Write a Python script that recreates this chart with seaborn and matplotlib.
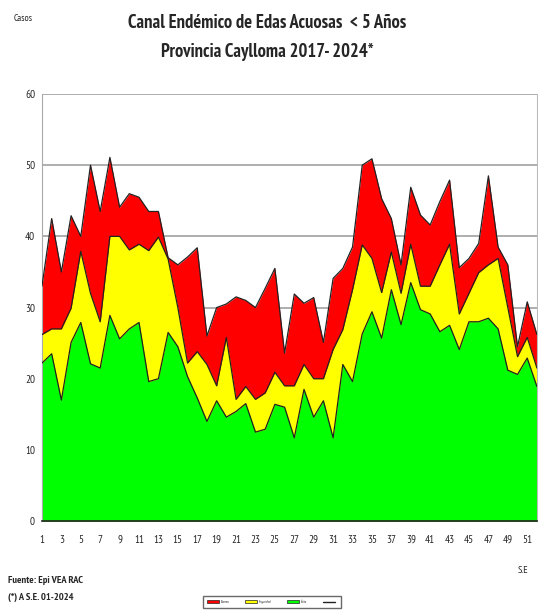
import matplotlib
matplotlib.use("Agg")
import matplotlib.pyplot as plt
import seaborn as sns
import numpy as np
import pandas as pd
from matplotlib.patches import Patch
from matplotlib.lines import Line2D

weeks = list(range(1, 53))
alarma = [33, 42.5, 35, 42.9, 40, 50, 43.5, 51.1, 44.1, 46, 45.5, 43.5, 43.5,
          37, 36, 37.1, 38.4, 26, 30, 30.5, 31.5, 31, 30, 32.7, 35.5, 23.6,
          31.9, 30.6, 31.4, 25.1, 34.1, 35.5, 38.5, 50, 50.9, 45.3, 42.5, 36, 46.9,
          43, 41.6, 44.9, 47.9, 35.6, 36.9, 39, 48.5, 38.5, 36, 24.5, 30.8, 26.2]
seguridad = [26.2, 27, 27, 29.9, 37.9, 32, 28, 40, 40, 38.1, 38.9, 38, 39.9,
             36.8, 30, 22.2, 23.8, 22, 19, 25.8, 17.1, 18.9, 17.1, 18, 20.9, 19,
             19, 22, 20, 20, 24.1, 26.9, 32.5, 38.8, 36.9, 32.1, 37.8, 32, 38.9,
             33, 33, 36, 38.9, 29.1, 32, 34.9, 36, 36.9, 30, 23.1, 25.8, 21.5]
exito = [22.2, 23.5, 17, 25.1, 27.9, 22.1, 21.5, 28.9, 25.6, 27, 27.9, 19.6, 20,
         26.5, 24.5, 20.3, 17.3, 14, 16.9, 14.6, 15.4, 16.5, 12.5, 12.9, 16.4, 16,
         11.7, 18.5, 14.6, 16.9, 11.7, 22, 19.6, 26.3, 29.4, 25.7, 32.5, 27.6, 33.5,
         29.7, 29.1, 26.6, 27.5, 24.1, 28, 28, 28.5, 27, 21.2, 20.6, 22.9, 18.9]
series_names = ["Alarma", "Seguridad", "Éxito"]
colors = ["#FF0000", "#FFFF00", "#00FF00"]
yticks = [0, 10, 20, 30, 40, 50, 60]
xtick_labels = [str(w) if w % 2 == 1 else "" for w in weeks]

df = pd.DataFrame({"SE": weeks, "Alarma": alarma, "Seguridad": seguridad, "Éxito": exito})

sns.set_style("white")
narrow = ["PT Sans Narrow", "Archivo Narrow", "DejaVu Sans"]
plt.rcParams["font.family"] = narrow

fig = plt.figure(figsize=(5.38, 6.13), dpi=100)
ax = fig.add_axes([0.078, 0.150, 0.920, 0.6966])

for name, c in zip(series_names, colors):
    ax.fill_between(df["SE"], 0, df[name], color=c, zorder=2, linewidth=0)
    sns.lineplot(x="SE", y=name, data=df, ax=ax, color="#222222", linewidth=0.9,
                 zorder=3, legend=False)

ax.set_xlim(1, 52)
ax.set_ylim(0, 60)
ax.set_yticks(yticks)
ax.set_xticks(weeks)
ax.set_xticklabels(xtick_labels)
ax.tick_params(axis="x", length=3, width=0.6, color="#888888", labelsize=8, pad=7, direction="out")
ax.tick_params(axis="y", length=3, width=0.6, color="#888888", labelsize=8, pad=2, direction="out")
ax.yaxis.grid(True, color="#999999", linewidth=1.1, zorder=1)
ax.set_axisbelow(True)
ax.set_xlabel("")
ax.set_ylabel("")
ax.spines["top"].set_visible(False)
ax.spines["left"].set_color("#aaaaaa")
ax.spines["right"].set_color("#bbbbbb")
ax.spines["bottom"].set_color("#222222")
ax.spines["bottom"].set_linewidth(1.2)
ax.spines["bottom"].set_zorder(5)

t1 = fig.text(0.497, 0.963, "Canal Endémico de Edas Acuosas  < 5 Años", ha="center", va="center",
              fontsize=16, fontweight="bold", family=narrow)
t2 = fig.text(0.497, 0.915, "Provincia Caylloma 2017- 2024*", ha="center", va="center",
              fontsize=16, fontweight="bold", family=narrow)
# fit title size to the reference layout (both lines share one size)
fig.canvas.draw()
r = fig.canvas.get_renderer()
w1 = t1.get_window_extent(r).width
w2 = t2.get_window_extent(r).width
size = 16 * 0.5 * (275.0 / w1 + 214.0 / w2)
t1.set_fontsize(size)
t2.set_fontsize(size)

fig.text(0.026, 0.970, "Casos", ha="left", va="center", fontsize=7, family=narrow)
fig.text(0.963, 0.070, "S.E", ha="left", va="center", fontsize=7.5, family=narrow)
fig.text(0.015, 0.053, "Fuente: Epi VEA RAC", ha="left", va="center", fontsize=7.5,
         fontweight="bold", family=narrow)
fig.text(0.015, 0.025, "(*) A S.E. 01-2024", ha="left", va="center", fontsize=7.5,
         fontweight="bold", family=narrow)

handles = [Patch(facecolor=c, edgecolor="#222222", linewidth=0.5) for c in colors]
handles.append(Line2D([0], [0], color="#222222", linewidth=1))
labels = series_names + [""]
fig.legend(handles, labels, loc="center", bbox_to_anchor=(0.505, 0.018), ncol=4,
           fontsize=2.5, frameon=True, fancybox=False, edgecolor="#444444",
           handlelength=3.5, handleheight=0.9, columnspacing=4.5, borderpad=1.2,
           handletextpad=0.5)

fig.savefig("out.png", dpi=100)
